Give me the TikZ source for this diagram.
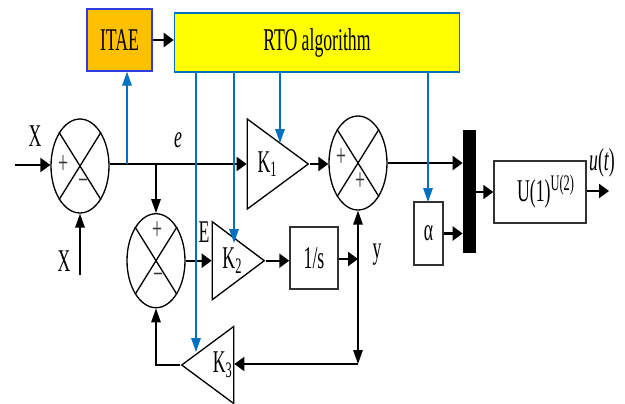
\documentclass[tikz,border=0pt]{standalone}
\usepackage{fontspec}
\setmainfont[FakeStretch=0.56]{Liberation Serif}
\usetikzlibrary{positioning,arrows.meta,shapes.geometric,calc}
\definecolor{azul}{RGB}{0,112,192}
\definecolor{azulborde}{RGB}{45,60,230}
\definecolor{naranja}{RGB}{255,192,0}
\definecolor{amarillo}{RGB}{255,255,0}
\definecolor{grisborde}{RGB}{50,50,50}
\begin{document}
\begin{tikzpicture}[x=0.02cm,y=-0.02cm,
  sumador/.style={draw=black, ellipse, line width=0.75pt, inner sep=0pt,
                  minimum width=1.16cm, minimum height=1.88cm},
  ganancia/.style={draw=black, isosceles triangle, isosceles triangle stretches,
                   line width=0.75pt, inner sep=0pt, font=\fontsize{18}{18}\selectfont},
  bloque/.style={draw=grisborde, line width=0.85pt, inner sep=0pt, align=center,
                 font=\fontsize{18}{18}\selectfont},
  etiqueta/.style={inner sep=0pt, font=\fontsize{18}{18}\selectfont},
  signo/.style={inner sep=0pt, text=grisborde, font=\fontsize{18}{18}\selectfont},
  flecha/.style={-{Triangle[length=2mm,width=2.8mm]}, line width=1.3pt, color=black},
  flechafina/.style={-{Triangle[length=2.8mm,width=1.9mm]}, line width=0.8pt, color=black},
  flechaazul/.style={-{Triangle[length=2.8mm,width=1.9mm]}, line width=0.8pt, color=azul}]
  \useasboundingbox (0,0) rectangle (625,403);
  % top blocks
  \node[bloque, draw=azulborde, fill=naranja, minimum width=1.3cm, minimum height=1.24cm] (itae) at (119.5,40) {ITAE};
  \node[bloque, draw=azul, fill=amarillo, minimum width=5.7cm, minimum height=1.18cm, right=0.42cm of itae, yshift=-0.05cm] (rto) {RTO algorithm};
  % summing junctions
  \node[sumador] (sumA) at (80,166) {};
  \node[sumador] (sumB) at (156,260.7) {};
  \node[sumador] (sumC) at (358,163) {};
  \foreach \s in {sumA,sumB,sumC} {
    \draw[line width=0.75pt] (\s.north west) -- (\s.south east);
    \draw[line width=0.75pt] (\s.north east) -- (\s.south west);
  }
  \node[signo] (masA) at (63,165) {+};
  \node[signo] (menA) at (83,185) {−};
  \node[signo] (masB) at (157,231) {+};
  \node[signo] (menB) at (158,279) {−};
  \node[signo] (masC) at (341,158) {+};
  \node[signo] (masD) at (360,182) {+};
  % gains
  \node[ganancia, anchor=apex, minimum width=1.8cm, minimum height=1.22cm] (kA) at (310,164) {\makebox[0pt][l]{\hspace{-0.12cm}K\textsubscript{1}}};
  \node[ganancia, anchor=apex, minimum width=1.56cm, minimum height=1.04cm] (kB) at (266,260.7) {\makebox[0pt][l]{\hspace{-0.06cm}K\textsubscript{2}}};
  \node[ganancia, anchor=apex, shape border rotate=180, minimum width=1.54cm, minimum height=1.04cm] (kC) at (180,365) {\makebox[0pt][r]{K\textsubscript{3}\hspace{-0.24cm}}};
  % other blocks
  \node[bloque, minimum width=0.96cm, minimum height=1.24cm] (integ) at (314,258) {1/s};
  \node[bloque, minimum width=0.58cm, minimum height=1.26cm] (alfa) at (428.5,233.5) {α};
  \node[fill=black, minimum width=0.26cm, minimum height=2.46cm, inner sep=0pt] (barra) at (469.5,191.5) {};
  \node[bloque, minimum width=1.84cm, minimum height=1.24cm] (salida) at (540,192) {\hspace{0.24cm}U(1)\textsuperscript{U(2)}};
  % free ends
  \coordinate (entA) at (15,165);
  \coordinate (entB) at (80,275);
  \coordinate (ramaE) at (156,164);
  \coordinate (nudoY) at (358,259);
  \coordinate (nudoK) at (358,364);
  \coordinate (fin) at (609,191);
  \coordinate (tomaI) at (127,164);
  \coordinate (puntaA) at (280,143);
  \coordinate (puntaB) at (234,243);
  \coordinate (puntaC) at (196,352);
  \coordinate (puntaD) at (428,202);
  % black connectors
  \draw[flecha] (itae.east) -- (itae.east -| rto.west);
  \draw[flecha] (entA) -- (entA -| sumA.west);
  \draw[flechafina] (entB) -- (sumA.south);
  \draw[flecha] (sumA.east |- ramaE) -- (ramaE -| kA.lower side);
  \draw[flechafina] (ramaE) -- (sumB.north);
  \draw[flecha] (sumB.east) -- (sumB.east -| kB.lower side);
  \draw[flecha] (kB.apex) -- (kB.apex -| integ.west);
  \draw[flecha] (nudoY -| integ.east) -- (nudoY);
  \draw[flechafina, {Triangle[length=2.8mm,width=1.9mm]}-{Triangle[length=2.8mm,width=1.9mm]}] (sumC.south) -- (nudoK);
  \draw[flecha] (nudoK) -- (nudoK -| kC.lower side);
  \draw[flechafina] (kC.apex) -| (sumB.south);
  \draw[flecha] (kA.apex) -- (kA.apex -| sumC.west);
  \draw[flecha] (sumC.east) -- (sumC.east -| barra.west);
  \draw[flecha] (alfa.east) -- (alfa.east -| barra.west);
  \draw[flecha] (barra.east |- salida.west) -- (salida.west);
  \draw[flecha] (fin -| salida.east) -- (fin);
  % blue connectors
  \draw[flechaazul] (tomaI) -- (tomaI |- itae.south);
  \draw[flechaazul] (rto.south -| puntaC) -- (puntaC);
  \draw[flechaazul] (rto.south -| puntaB) -- (puntaB);
  \draw[flechaazul] (rto.south -| puntaA) -- (puntaA);
  \draw[flechaazul] (rto.south -| puntaD) -- (puntaD);
  % labels
  \node[etiqueta] (lblX) at (35,136) {X};
  \node[etiqueta] (lblXb) at (64,261) {X};
  \node[etiqueta] (lblE) at (178,140) {\itshape e};
  \node[etiqueta] (lblEb) at (204,232) {E};
  \node[etiqueta] (lblY) at (377,255) {y};
  \node[etiqueta] (lblU) at (602,163) {\itshape u\upshape(\itshape t\upshape)};
\end{tikzpicture}
\end{document}
